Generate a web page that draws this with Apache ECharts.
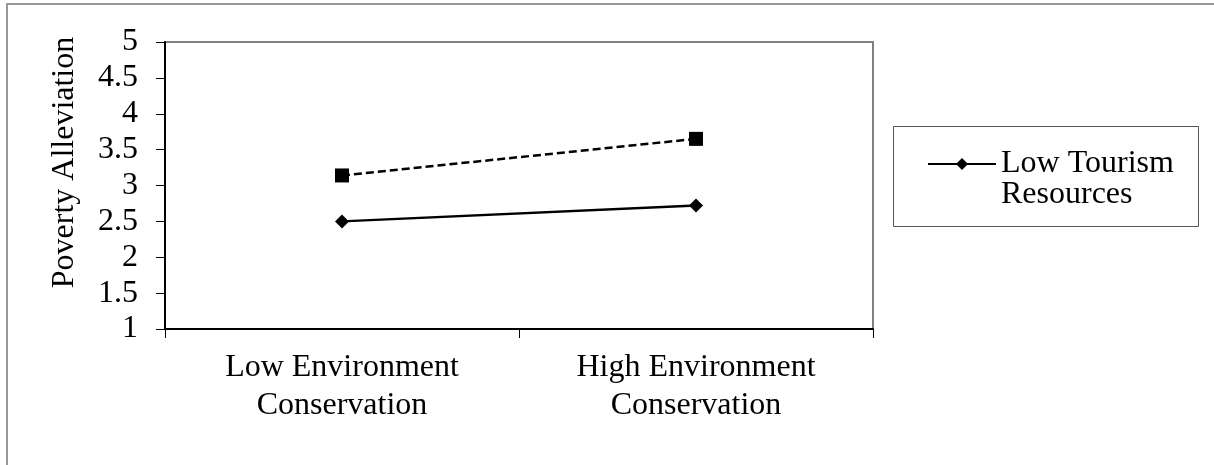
<!DOCTYPE html>
<html>
<head>
<meta charset="utf-8">
<script src="https://cdn.jsdelivr.net/npm/echarts@6/dist/echarts.min.js"></script>
<style>
  html, body { margin: 0; padding: 0; background: #fff; }
  #chart { width: 1214px; height: 465px; }
</style>
</head>
<body>
<div id="chart"></div>
<script>
const categories = ['Low Environment\nConservation', 'High Environment\nConservation'];
const lowTourism = [2.5, 2.72];
const highTourism = [3.14, 3.65];
const lowName = 'Low Tourism Resources';
const highName = 'High Tourism Resources';

const font = 'Liberation Serif';
const chart = echarts.init(document.getElementById('chart'));

const option = {
    animation: false,
    backgroundColor: '#fff',
    textStyle: { fontFamily: font, color: '#000' },
    graphic: [
        {
            type: 'rect',
            shape: { x: 7, y: 4, width: 1300, height: 600 },
            style: { fill: 'none', stroke: '#999', lineWidth: 2 },
            silent: true,
            z: -10
        },
        {
            type: 'rect',
            shape: { x: 893.5, y: 126.5, width: 305, height: 100 },
            style: { fill: 'none', stroke: '#555', lineWidth: 1 },
            silent: true
        }
    ],
    grid: {
        left: 165,
        top: 42,
        right: 341,
        bottom: 136,
        show: true,
        borderColor: '#808080',
        borderWidth: 2,
        backgroundColor: '#fff'
    },
    legend: {
        data: [lowName],
        left: 927,
        top: 117,
        padding: 0,
        itemWidth: 68,
        itemHeight: 15,
        itemGap: 5,
        // blank first line keeps the icon level with "Low Tourism"
        formatter: () => ' \nLow Tourism\nResources',
        textStyle: {
            fontFamily: font,
            fontSize: 32,
            color: '#000',
            lineHeight: 31
        }
    },
    xAxis: {
        type: 'category',
        data: categories,
        boundaryGap: true,
        axisLine: { lineStyle: { color: '#000', width: 2 } },
        axisTick: { show: true, length: 9, lineStyle: { color: '#000', width: 1 } },
        axisLabel: {
            fontFamily: font,
            fontSize: 32,
            color: '#000',
            lineHeight: 38,
            margin: 20,
            interval: 0
        },
        splitLine: { show: false }
    },
    yAxis: {
        type: 'value',
        min: 1,
        max: 5,
        interval: 0.5,
        name: 'Poverty Alleviation',
        nameLocation: 'middle',
        nameRotate: 90,
        nameGap: 84,
        nameTextStyle: {
            fontFamily: font,
            fontSize: 32,
            color: '#000',
            padding: [0, 0, 0, 46]
        },
        axisLine: { show: true, lineStyle: { color: '#000', width: 2 } },
        axisTick: { show: true, length: 9, lineStyle: { color: '#000', width: 1 } },
        axisLabel: {
            fontFamily: font,
            fontSize: 32,
            color: '#000',
            margin: 27
        },
        splitLine: { show: false }
    },
    series: [
        {
            name: lowName,
            type: 'line',
            data: lowTourism,
            symbol: 'diamond',
            symbolSize: 14,
            lineStyle: { color: '#000', width: 2.5, type: 'solid' },
            itemStyle: { color: '#000' }
        },
        {
            name: highName,
            type: 'line',
            data: highTourism,
            symbol: 'rect',
            symbolSize: 14,
            lineStyle: { color: '#000', width: 2.5, type: [8, 4] },
            itemStyle: { color: '#000' }
        }
    ]
};

chart.setOption(option);
</script>
</body>
</html>
